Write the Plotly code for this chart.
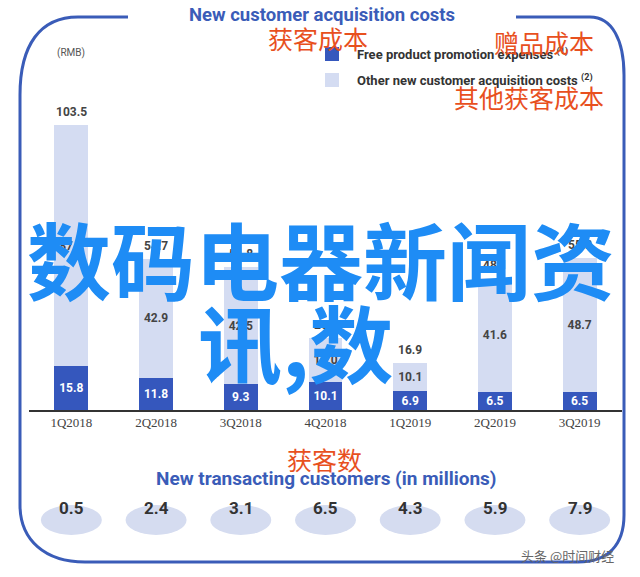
import plotly.graph_objects as go

W, H = 640, 577

quarters = ["1Q2018", "2Q2018", "3Q2018", "4Q2018", "1Q2019", "2Q2019", "3Q2019"]
free_product = [15.8, 11.8, 9.3, 10.1, 6.9, 6.5, 6.5]
other_costs = [87.7, 42.9, 42.5, 16.0, 10.1, 41.6, 48.7]
totals = [103.5, 54.7, 51.8, 26.1, 16.9, 48.1, 55.2]
new_customers = [0.5, 2.4, 3.1, 6.5, 4.3, 5.9, 7.9]

DARK = "#3557bd"
LIGHT = "#d4dcf2"
BORDER = "#3a5cb8"
RED = "#e8501e"
WM_BLUE = "#1e8cf5"
NUM_FONT = "Roboto"


def px(x):
    return x / W


def py(y):
    return 1 - y / H


fig = go.Figure()
fig.add_trace(go.Bar(
    x=quarters, y=free_product, marker_color=DARK, marker_line_width=0,
    text=[f"{v:.1f}" for v in free_product], textposition="inside",
    insidetextanchor="middle", textangle=0, constraintext="none",
    insidetextfont=dict(color="white", size=12, family=NUM_FONT, weight="bold"),
    name="Free product promotion expenses", showlegend=False,
))
fig.add_trace(go.Bar(
    x=quarters, y=other_costs, marker_color=LIGHT, marker_line_width=0,
    text=[f"{v:.1f}" for v in other_costs], textposition="inside",
    insidetextanchor="middle", textangle=0, constraintext="none",
    insidetextfont=dict(color="#444444", size=12, family=NUM_FONT, weight="bold"),
    name="Other new customer acquisition costs", showlegend=False,
))

annotations = []
# totals
for q, t in zip(quarters, totals):
    annotations.append(dict(x=q, y=t, xref="x", yref="y", text=f"{t:.1f}", showarrow=False,
                            yshift=13, font=dict(size=12, color="#444444", family=NUM_FONT, weight="bold")))

shapes = []
# new customer ellipses and values
for i, (q, v) in enumerate(zip(quarters, new_customers)):
    shapes.append(dict(type="circle", xref="x", yref="paper", x0=i - 0.36, x1=i + 0.36,
                       y0=py(535), y1=py(505), fillcolor="#d5dcf0", line_width=0, layer="below"))
    annotations.append(dict(x=q, y=py(520), xref="x", yref="paper", text=f"{v:.1f}", showarrow=False,
                            font=dict(size=17, color="#333333", family=NUM_FONT, weight="bold")))

# rounded border with gap at top for the title
def P(x, y):
    return f"{px(x):.5f},{py(y):.5f}"

path = (f"M {P(128,17)} L {P(78,17)} C {P(40,17)} {P(20,45)} {P(20,95)} "
        f"L {P(20,505)} C {P(20,540)} {P(45,562)} {P(85,562)} "
        f"L {P(578,562)} C {P(608,562)} {P(624,545)} {P(624,515)} "
        f"L {P(624,75)} C {P(624,40)} {P(612,17)} {P(590,17)} L {P(516,17)}")
shapes.append(dict(type="path", xref="paper", yref="paper", path=path,
                   line=dict(color=BORDER, width=3)))

# legend squares
shapes.append(dict(type="rect", xref="paper", yref="paper", x0=px(325), x1=px(339),
                   y0=py(61), y1=py(47), fillcolor=DARK, line_width=0))
shapes.append(dict(type="rect", xref="paper", yref="paper", x0=px(325), x1=px(339),
                   y0=py(87), y1=py(73), fillcolor=LIGHT, line_width=0))

def txt(x, y, s, size, color, family="Roboto", weight="normal", xanchor="center"):
    annotations.append(dict(x=px(x), y=py(y), xref="paper", yref="paper", text=s, showarrow=False,
                            xanchor=xanchor, yanchor="middle",
                            font=dict(size=size, color=color, family=family, weight=weight)))

txt(322, 15, "New customer acquisition costs", 18.5, BORDER, weight="bold")
txt(71, 53, "(RMB)", 10, "#555555")
txt(355, 54, "Free product promotion expenses <sup>(1)</sup>", 13, "#333333", weight="bold", xanchor="left")
txt(355, 80, "Other new customer acquisition costs <sup>(2)</sup>", 13, "#333333", weight="bold", xanchor="left")
txt(326, 478, "New transacting customers (in millions)", 19, BORDER, weight="bold")

CJK = "Noto Sans CJK SC"
txt(318, 38, "获客成本", 25, RED, family=CJK)
txt(544, 42, "赠品成本", 25, RED, family=CJK)
txt(529, 97, "其他获客成本", 25, RED, family=CJK)
txt(324, 459, "获客数", 25, RED, family=CJK)

# overlaid watermark text
txt(321, 257, "数码电器新闻资", 84, WM_BLUE, family=CJK, weight="bold")
txt(196, 340, "讯,数", 84, WM_BLUE, family=CJK, weight="bold", xanchor="left")
txt(567, 555, "头条 @时间财经", 13, "#666666", family=CJK)

fig.update_layout(
    width=W, height=H, margin=dict(l=0, r=0, t=0, b=0),
    paper_bgcolor="white", plot_bgcolor="white",
    barmode="stack", bargap=0.6,
    showlegend=False,
    xaxis=dict(domain=[px(29), px(622)], showline=True, linecolor="#333333", linewidth=1.5,
               ticks="", showgrid=False, zeroline=False,
               tickfont=dict(family="Liberation Serif", size=13, color="#444444")),
    yaxis=dict(domain=[py(410), py(107.1)], range=[0, 110], visible=False, showgrid=False),
    shapes=shapes, annotations=annotations,
)

fig.write_html("out.html")
